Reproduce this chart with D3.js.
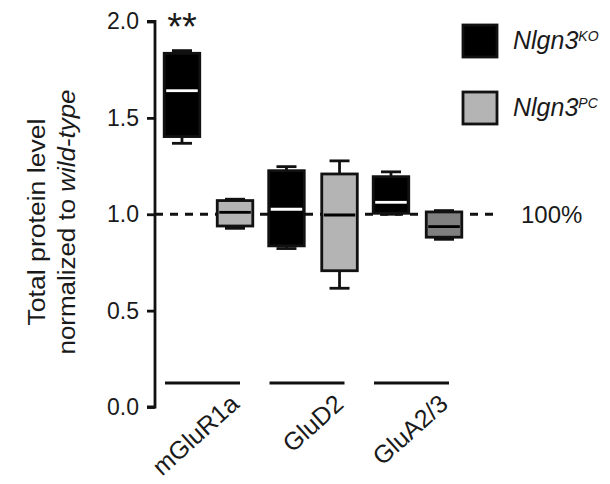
<!DOCTYPE html>
<html>
<head>
<meta charset="utf-8">
<script src="https://cdn.jsdelivr.net/npm/d3@7"></script>
<style>
  body { margin: 0; background: #fff; }
  svg { display: block; font-family: "Liberation Sans", Arial, sans-serif; }
</style>
</head>
<body>
<svg id="chart" width="610" height="484"></svg>
<script>
// Proteins on the x axis, genotypes inside each group
const groups = ['mGluR1a', 'GluD2', 'GluA2/3'];
const series = ['KO', 'PC'];

// Box plot values (normalized to wild-type)
const koMin    = [1.368, 0.822, 1.000];
const koQ1     = [1.403, 0.836, 1.005];
const koMedian = [1.641, 1.026, 1.062];
const koQ3     = [1.835, 1.226, 1.195];
const koMax    = [1.849, 1.247, 1.220];

const pcMin    = [0.927, 0.616, 0.870];
const pcQ1     = [0.939, 0.707, 0.881];
const pcMedian = [1.010, 0.996, 0.936];
const pcQ3     = [1.071, 1.209, 1.012];
const pcMax    = [1.078, 1.277, 1.019];

const yTicks = [0, 0.5, 1.0, 1.5, 2.0];
const refLine = 1.0;

const svg = d3.select('#chart');
const sw = 2.8;

const y = d3.scaleLinear().domain([0, 2]).range([407, 21.5]);
const x = d3.scaleBand().domain(groups).range([156.25, 469.75]);
const xi = d3.scaleBand().domain(series).range([0, x.bandwidth()])
  .paddingInner(0.33).paddingOuter(0.15);

// build box records from the arrays
const boxes = [];
groups.forEach((g, i) => {
  boxes.push({ g, s: 'KO', min: koMin[i], q1: koQ1[i], med: koMedian[i], q3: koQ3[i], max: koMax[i],
    fill: '#000', medColor: '#fff' });
  boxes.push({ g, s: 'PC', min: pcMin[i], q1: pcQ1[i], med: pcMedian[i], q3: pcQ3[i], max: pcMax[i],
    fill: g === 'GluA2/3' ? '#808080' : '#b4b4b4', medColor: '#000' });
});

// 100% reference line (behind boxes)
svg.append('line')
  .attr('x1', 155).attr('x2', 495)
  .attr('y1', y(refLine)).attr('y2', y(refLine))
  .attr('stroke', '#111').attr('stroke-width', sw)
  .attr('stroke-dasharray', '8,7');

svg.append('text')
  .attr('x', 521).attr('y', y(refLine) + 9)
  .attr('font-size', 24).attr('fill', '#1a1a1a')
  .text('100%');

// boxes
const bw = xi.bandwidth();
boxes.forEach(b => {
  const x0 = x(b.g) + xi(b.s);
  const cx = x0 + bw / 2;
  const gEl = svg.append('g');
  gEl.append('line').attr('x1', cx).attr('x2', cx)
    .attr('y1', y(b.max)).attr('y2', y(b.min))
    .attr('stroke', '#111').attr('stroke-width', sw);
  [b.min, b.max].forEach(v => {
    gEl.append('line').attr('x1', cx - 10).attr('x2', cx + 10)
      .attr('y1', y(v)).attr('y2', y(v))
      .attr('stroke', '#111').attr('stroke-width', sw);
  });
  gEl.append('rect')
    .attr('x', x0).attr('y', y(b.q3))
    .attr('width', bw).attr('height', y(b.q1) - y(b.q3))
    .attr('fill', b.fill).attr('stroke', '#111').attr('stroke-width', sw);
  gEl.append('line').attr('x1', x0 + 2).attr('x2', x0 + bw - 2)
    .attr('y1', y(b.med)).attr('y2', y(b.med))
    .attr('stroke', b.medColor).attr('stroke-width', sw);
});

// significance mark
svg.append('text')
  .attr('x', x('mGluR1a') + xi('KO') + bw / 2).attr('y', 40)
  .attr('text-anchor', 'middle').attr('font-size', 38).attr('fill', '#1a1a1a')
  .text('**');

// group underlines near the bottom
groups.forEach(g => {
  const c = x(g) + x.bandwidth() / 2 - 6;
  svg.append('line')
    .attr('x1', c - 37.5).attr('x2', c + 37.5)
    .attr('y1', 383).attr('y2', 383)
    .attr('stroke', '#111').attr('stroke-width', sw);
});

// y axis
const yAxis = d3.axisLeft(y).tickValues(yTicks).tickFormat(d3.format('.1f')).tickSize(8).tickPadding(8);
const ya = svg.append('g').attr('transform', 'translate(155,0)').call(yAxis);
ya.select('.domain').attr('stroke', '#111').attr('stroke-width', sw).attr('d', `M-8,${y(2)}H0V${y(0)}H-8`);
ya.selectAll('.tick line').attr('stroke', '#111').attr('stroke-width', sw);
ya.selectAll('.tick text').attr('font-size', 23).attr('fill', '#1a1a1a')
  .attr('font-family', '"Liberation Sans", Arial, sans-serif');

// category labels, rotated
groups.forEach(g => {
  const ax = x(g) + x.bandwidth() / 2 + 32;
  svg.append('text')
    .attr('transform', `translate(${ax},406) rotate(-42)`)
    .attr('text-anchor', 'end').attr('font-size', 25).attr('fill', '#1a1a1a')
    .text(g);
});

// y title, two centred lines
svg.append('text')
  .attr('transform', 'translate(45,222) rotate(-90)')
  .attr('text-anchor', 'middle').attr('font-size', 23).attr('fill', '#1a1a1a')
  .attr('textLength', 207).attr('lengthAdjust', 'spacingAndGlyphs')
  .text('Total protein level');
const t2 = svg.append('text')
  .attr('transform', 'translate(75,222) rotate(-90)')
  .attr('text-anchor', 'middle').attr('font-size', 23).attr('fill', '#1a1a1a')
  .attr('textLength', 265).attr('lengthAdjust', 'spacingAndGlyphs');
t2.append('tspan').text('normalized to ');
t2.append('tspan').attr('font-style', 'italic').text('wild-type');

// legend
const legend = [
  { key: 'KO', fill: '#000', sup: 'KO' },
  { key: 'PC', fill: '#b4b4b4', sup: 'PC' }
];
legend.forEach((d, i) => {
  const ly = 25 + i * 67;
  svg.append('rect')
    .attr('x', 463).attr('y', ly).attr('width', 34).attr('height', 32)
    .attr('fill', d.fill).attr('stroke', '#111').attr('stroke-width', sw);
  const t = svg.append('text')
    .attr('x', 513).attr('y', ly + 24)
    .attr('font-size', 25).attr('font-style', 'italic').attr('fill', '#1a1a1a');
  t.append('tspan').text('Nlgn3');
  t.append('tspan').attr('font-size', 14).attr('dy', -8).text(d.sup);
});
</script>
</body>
</html>
